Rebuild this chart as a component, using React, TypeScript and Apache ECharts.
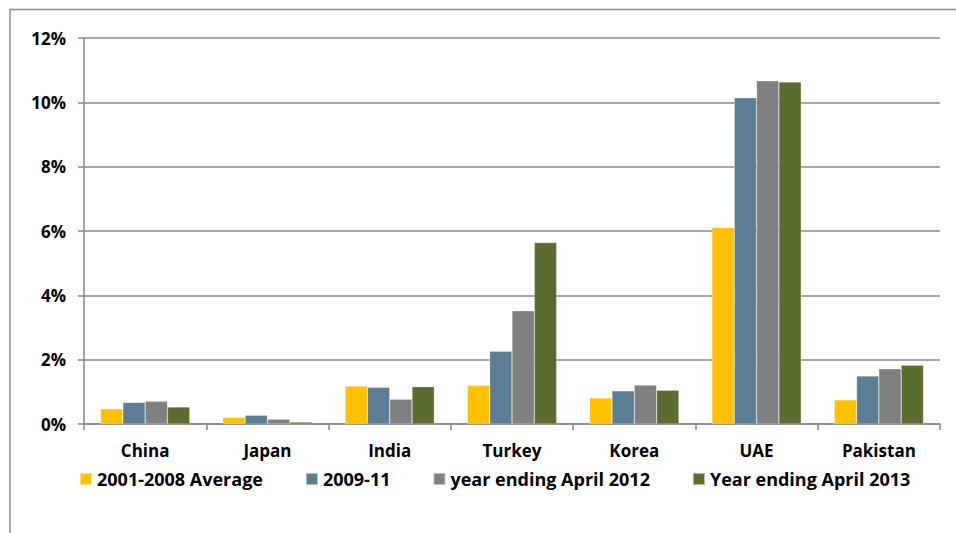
import React, { useEffect, useRef } from "react";
import * as echarts from "echarts";

const categories = ["China", "Japan", "India", "Turkey", "Korea", "UAE", "Pakistan"];
const seriesNames = ["2001-2008 Average", "2009-11", "year ending April 2012", "Year ending April 2013"];
const avg2001_2008 = [0.47, 0.2, 1.18, 1.2, 0.81, 6.11, 0.75];
const y2009_11 = [0.67, 0.27, 1.14, 2.26, 1.03, 10.14, 1.49];
const y2012 = [0.71, 0.15, 0.77, 3.52, 1.21, 10.67, 1.72];
const y2013 = [0.53, 0.06, 1.16, 5.64, 1.05, 10.63, 1.83];
const seriesColors = ["#FFC000", "#5B7E95", "#808080", "#5A6D2E"];
const yTicks = [0, 2, 4, 6, 8, 10, 12];

const FONT = "'Open Sans', Lato, 'Liberation Sans', sans-serif";

export default function App() {
  const ref = useRef<HTMLDivElement>(null);
  useEffect(() => {
    document.body.style.margin = "0";
    const chart = echarts.init(ref.current!, null, { renderer: "svg" });
    const data = [avg2001_2008, y2009_11, y2012, y2013];
    chart.setOption({
      animation: false,
      backgroundColor: "#ffffff",
      textStyle: { fontFamily: FONT },
      graphic: [
        {
          type: "rect",
          shape: { x: 10, y: 9.5, width: 1000, height: 600 },
          style: { fill: "none", stroke: "#8c8c8c", lineWidth: 1.5 },
          silent: true,
        },
      ],
      grid: { left: 84, right: 16, top: 38, bottom: 109, containLabel: false },
      legend: {
        left: 74,
        top: 465,
        itemWidth: 12,
        itemHeight: 12,
        itemGap: 42,
        icon: "rect",
        textStyle: { fontFamily: FONT, fontWeight: "bold", fontSize: 18, color: "#000" },
        data: seriesNames,
      },
      xAxis: {
        type: "category",
        data: categories,
        axisLine: { lineStyle: { color: "#888", width: 1.5 } },
        axisTick: { show: true, length: 6, lineStyle: { color: "#888", width: 1.5 } },
        axisLabel: { fontFamily: FONT, fontWeight: "bold", fontSize: 17, color: "#000", margin: 18 },
      },
      yAxis: {
        type: "value",
        min: yTicks[0],
        max: yTicks[yTicks.length - 1],
        interval: 2,
        axisLine: { show: true, lineStyle: { color: "#888", width: 1.5 } },
        axisTick: { show: true, length: 6, lineStyle: { color: "#888", width: 1.5 } },
        splitLine: { show: true, lineStyle: { color: "#888", width: 1.5 } },
        axisLabel: {
          fontFamily: FONT,
          fontWeight: "bold",
          fontSize: 17,
          color: "#000",
          margin: 18,
          formatter: (v: number) => `${v}%`,
        },
      },
      series: seriesNames.map((name, i) => ({
        name,
        type: "bar",
        data: data[i],
        barGap: "0%",
        barCategoryGap: "27%",
        itemStyle: { color: seriesColors[i], borderColor: "rgba(255,255,255,0.5)", borderWidth: 0.5 },
      })),
    });
    return () => chart.dispose();
  }, []);
  return <div ref={ref} style={{ width: 956, height: 533 }} />;
}
